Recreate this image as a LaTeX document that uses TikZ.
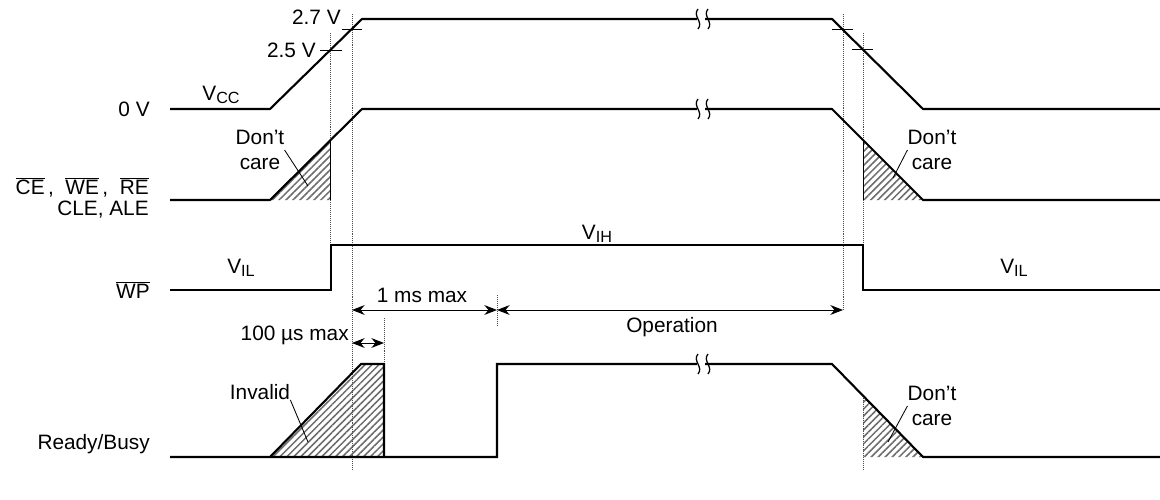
\documentclass[tikz,border=0pt]{standalone}
\usepackage{fontspec}
\setmainfont{Liberation Sans}
\usetikzlibrary{arrows.meta}
\usetikzlibrary{patterns.meta}

\newcommand{\ovl}[1]{$\overline{\mbox{#1}}$}
\newcommand{\sub}[1]{\raisebox{-0.32ex}{\fontsize{11.5}{12}\selectfont #1}}

\tikzset{
    sig/.style={line width=1.5pt},
    guide/.style={densely dotted,line width=0.4pt,gray!60!black},
    dimline/.style={line width=0.7pt,{Stealth[length=9pt,width=7pt]}-{Stealth[length=9pt,width=7pt]}},
    hatch/.style={pattern={Lines[angle=45,distance=3.5pt,line width=1.1pt]},pattern color=gray!85!black},
    lbl/.style={font=\fontsize{14.8}{18.4}\selectfont,inner sep=0pt,align=center},
    leader/.style={line width=0.6pt},
    tickmark/.style={line width=0.7pt},
}

\newcommand{\sigbreak}[1]{
    \begin{scope}[shift={(#1)}]
        \fill[white] (-4,-4) rectangle (4,4);
        \draw[line width=0.9pt] (-3,-10) .. controls (-9,-3) and (3,3) .. (-3,10);
        \draw[line width=0.9pt] (7,-10) .. controls (1,-3) and (13,3) .. (7,10);
    \end{scope}
}

\begin{document}
\begin{tikzpicture}[x=0.025cm,y=-0.025cm]
        \useasboundingbox (0,0) rectangle (1160,500);

        % hatched areas
        \fill[hatch] (270,200) -- (330,141) -- (330,200) -- cycle;
        \fill[hatch] (863,140) -- (863,200) -- (923,200) -- cycle;
        \fill[hatch] (270,457) -- (361,364) -- (384,364) -- (384,457) -- cycle;
        \fill[hatch] (863,396) -- (863,457) -- (923,457) -- cycle;

        % guide lines
        \draw[guide] (330,33) -- (330,245);
        \draw[guide] (352,14) -- (352,470);
        \draw[guide] (843,14) -- (843,310);
        \draw[guide] (863,33) -- (863,245);
        \draw[guide] (863,396) -- (863,470);
        \draw[guide] (497,295) -- (497,325);
        \draw[guide] (384,318) -- (384,364);
        \draw[line width=0.5pt] (330,141) -- (330,200);
        \draw[line width=0.5pt] (863,140) -- (863,200);

        % signals
        \draw[sig] (170,109) -- (270,109) -- (362,19) -- (832,19) -- (923,109) -- (1160,109);
        \draw[sig] (170,200) -- (270,200) -- (362,109) -- (832,109) -- (923,200) -- (1160,200);
        \draw[sig] (170,290) -- (331,290) -- (331,245) -- (863,245) -- (863,290) -- (1160,290);
        \draw[sig] (170,457) -- (497,457) -- (497,364) -- (832,364) -- (923,457) -- (1160,457);
        \draw[sig] (270,457) -- (361,364) -- (384,364) -- (384,457);

        \sigbreak{701,19}
        \sigbreak{701,109}
        \sigbreak{701,364}

        % level marks
        \draw[tickmark] (320,50) -- (342,50);
        \draw[tickmark] (342,29) -- (362,29);
        \draw[tickmark] (832,29) -- (853,29);
        \draw[tickmark] (852,49) -- (873,49);

        % labels
        \node[lbl,anchor=east] (v27) at (341,17) {2.7 V};
        \node[lbl,anchor=east] (v25) at (316,50) {2.5 V};
        \node[lbl,anchor=east] (v0) at (150,109) {0 V};
        \node[lbl] (vcc) at (221,95) {V\sub{CC}};
        \node[lbl,anchor=east] (ctl) at (149,187) {\ovl{CE}\,,\ \ \ovl{WE}\,,\ \ \ovl{RE}};
        \node[lbl,anchor=east] (cle) at (149,210) {CLE, ALE};
        \node[lbl,anchor=east] (wp) at (150,290) {\ovl{WP}};
        \node[lbl,anchor=east] (rb) at (150,444) {Ready/Busy};
        \node[lbl] (vilL) at (241,268) {V\sub{IL}};
        \node[lbl] (vilR) at (1014,268) {V\sub{IL}};
        \node[lbl] (vih) at (597,234) {V\sub{IH}};

        \node[lbl] (dcL) at (260,150) {Don’t\\care};
        \node[lbl] (dcR) at (932,150) {Don’t\\care};
        \node[lbl] (dcB) at (932,406) {Don’t\\care};
        \node[lbl] (inv) at (260,392) {Invalid};

        \coordinate (dcLtip) at (308,186);
        \coordinate (dcRtip) at (893,178);
        \coordinate (dcBtip) at (888,442);
        \coordinate (invtip) at (308,442);
        \draw[leader] (dcL.east) -- (dcLtip);
        \draw[leader] (dcR.west) -- (dcRtip);
        \draw[leader] (dcB.west) -- (dcBtip);
        \draw[leader] (inv.south east) -- (invtip);

        % timing
        \coordinate (tA) at (352,310);
        \coordinate (tB) at (497,310);
        \coordinate (tC) at (843,310);
        \coordinate (tD) at (352,343);
        \coordinate (tE) at (384,343);
        \draw[dimline] (tA) -- (tB);
        \draw[dimline] (tB) -- (tC);
        \draw[dimline] (tD) -- (tE);
        \node[lbl] (ms) at (422,295) {1 ms max};
        \node[lbl] (op) at (672,327) {Operation};
        \node[lbl,anchor=east] (us) at (349,335) {100 µs max};

    \end{tikzpicture}
\end{document}
